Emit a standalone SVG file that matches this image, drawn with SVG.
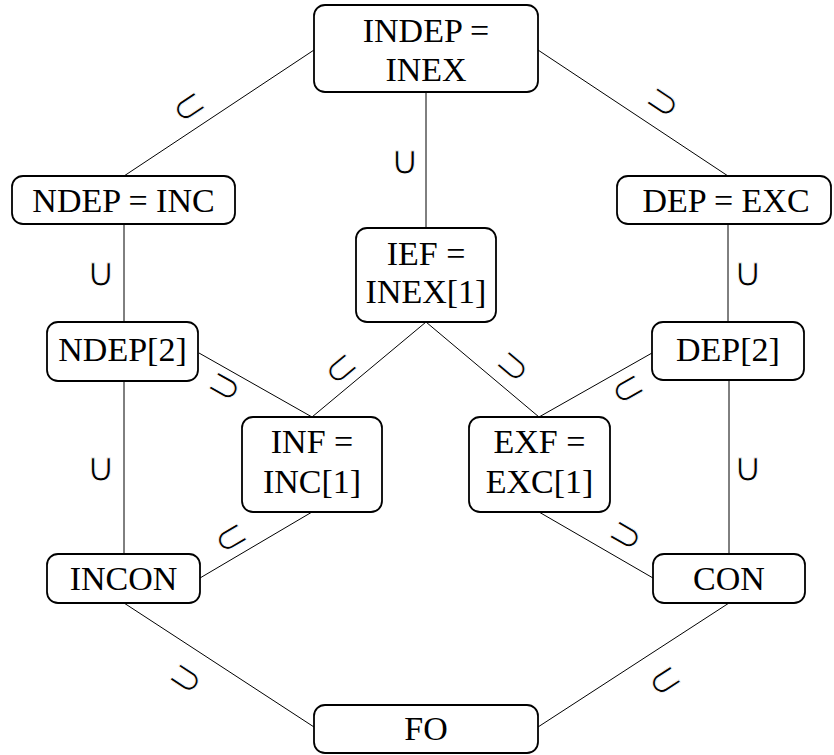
<svg xmlns="http://www.w3.org/2000/svg" width="834" height="755" viewBox="0 0 834 755">
<style>
.box{fill:#fff;stroke:#000;stroke-width:1.8}
.t{font-family:"Liberation Serif","Times New Roman","DejaVu Serif",serif;font-size:34px;text-anchor:middle;fill:#000}
.e{stroke:#000;stroke-width:1;fill:none}
.s{font-family:"DejaVu Sans","DejaVu Serif",sans-serif;font-size:40px;text-anchor:middle;dominant-baseline:central;fill:#000;stroke:#fff;stroke-width:0.9}
</style>
<rect width="834" height="755" fill="#fff"/>
<g id="connectors">
<line class="e" x1="314" y1="50" x2="124" y2="176"/>
<line class="e" x1="538" y1="50" x2="728" y2="176"/>
<line class="e" x1="426" y1="92" x2="426" y2="228"/>
<line class="e" x1="124" y1="224" x2="124" y2="322"/>
<line class="e" x1="728" y1="224" x2="728" y2="322"/>
<line class="e" x1="199" y1="353" x2="312" y2="417"/>
<line class="e" x1="426" y1="322" x2="312" y2="417"/>
<line class="e" x1="426" y1="322" x2="539" y2="417"/>
<line class="e" x1="652" y1="353" x2="539" y2="417"/>
<line class="e" x1="124" y1="381" x2="124" y2="554"/>
<line class="e" x1="729" y1="380" x2="729" y2="554"/>
<line class="e" x1="312" y1="512" x2="200" y2="578"/>
<line class="e" x1="539" y1="512" x2="653" y2="578"/>
<line class="e" x1="124" y1="603" x2="314" y2="727"/>
<line class="e" x1="729" y1="603" x2="538" y2="727"/>
<text class="s" transform="translate(188,106) rotate(-33.6)">⊂</text>
<text class="s" transform="translate(662,104) rotate(-146.4)">⊂</text>
<text class="s" x="405" y="160">∪</text>
<text class="s" x="101" y="272">∪</text>
<text class="s" x="748" y="272">∪</text>
<text class="s" x="101" y="467">∪</text>
<text class="s" x="748" y="467">∪</text>
<text class="s" transform="translate(224,388) rotate(-150.5)">⊂</text>
<text class="s" transform="translate(340,368) rotate(-39.8)">⊂</text>
<text class="s" transform="translate(512,368) rotate(-139.9)">⊂</text>
<text class="s" transform="translate(627,388) rotate(-29.5)">⊂</text>
<text class="s" transform="translate(230,537) rotate(-30.5)">⊂</text>
<text class="s" transform="translate(625,537) rotate(-149.9)">⊂</text>
<text class="s" transform="translate(185,680) rotate(-146.9)">⊂</text>
<text class="s" transform="translate(664,680) rotate(-33)">⊂</text>
</g>
<g id="INDEP">
<rect class="box" x="314" y="5" width="224" height="87" rx="11"/>
<text class="t" x="426" y="42">INDEP =</text>
<text class="t" x="426" y="81">INEX</text>
</g>
<g id="NDEP">
<rect class="box" x="12" y="176" width="223" height="48" rx="11"/>
<text class="t" x="123.5" y="212">NDEP = INC</text>
</g>
<g id="DEP">
<rect class="box" x="617" y="176" width="214" height="48" rx="11"/>
<text class="t" x="726" y="212">DEP = EXC</text>
</g>
<g id="IEF">
<rect class="box" x="356" y="228" width="140" height="94" rx="11"/>
<text class="t" x="426" y="265">IEF =</text>
<text class="t" x="426" y="303">INEX[1]</text>
</g>
<g id="NDEP2">
<rect class="box" x="47" y="322" width="151" height="59" rx="11"/>
<text class="t" x="122.5" y="361">NDEP[2]</text>
</g>
<g id="DEP2">
<rect class="box" x="652" y="322" width="152" height="58" rx="11"/>
<text class="t" x="728" y="361">DEP[2]</text>
</g>
<g id="INF">
<rect class="box" x="242" y="417" width="140" height="95" rx="11"/>
<text class="t" x="312" y="453">INF =</text>
<text class="t" x="312" y="493">INC[1]</text>
</g>
<g id="EXF">
<rect class="box" x="469" y="417" width="141" height="95" rx="11"/>
<text class="t" x="539.5" y="453">EXF =</text>
<text class="t" x="539.5" y="493">EXC[1]</text>
</g>
<g id="INCON">
<rect class="box" x="47" y="554" width="153" height="49" rx="11"/>
<text class="t" x="123.5" y="590">INCON</text>
</g>
<g id="CON">
<rect class="box" x="653" y="554" width="152" height="49" rx="11"/>
<text class="t" x="729" y="590">CON</text>
</g>
<g id="FO">
<rect class="box" x="314" y="705" width="224" height="48" rx="11"/>
<text class="t" x="426" y="740">FO</text>
</g>
</svg>
